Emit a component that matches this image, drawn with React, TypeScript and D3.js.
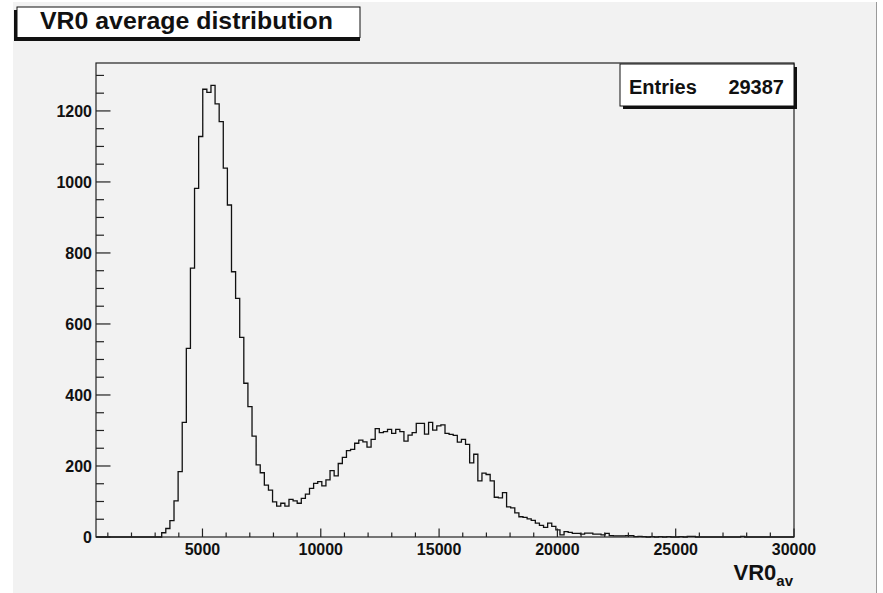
import React from "react";
import * as d3 from "d3";

// ---- data ----
const TITLE = "VR0 average distribution";
const X_TITLE_MAIN = "VR0";
const X_TITLE_SUB = "av";
const ENTRIES_LABEL = "Entries";
const ENTRIES_VALUE = "29387";

const X_MIN = 500;
const X_MAX = 30000;
const Y_MAX = 1335;

const X_MAJOR_TICKS = [5000, 10000, 15000, 20000, 25000, 30000];
const Y_MAJOR_TICKS = [0, 200, 400, 600, 800, 1000, 1200];

// bin contents, 170 equal bins between X_MIN and X_MAX
const COUNTS: number[] = [
  // 0-15
  0, 0, 0, 0, 0, 0, 0, 0, 0, 0, 0, 0, 0, 0, 0, 0,
  // 16-42
  12, 24, 46, 102, 184, 323, 531, 757, 982, 1128, 1261, 1252, 1272, 1220, 1170,
  1039, 935, 747, 672, 562, 433, 367, 284, 203, 181, 146, 132,
  // 43-90
  99, 87, 95, 87, 106, 102, 95, 109, 121, 137, 151, 156, 144, 161, 187, 172,
  207, 224, 243, 247, 264, 273, 268, 253, 275, 305, 294, 297, 303, 292, 303,
  297, 270, 287, 294, 320, 320, 290, 323, 301, 313, 316, 292, 289, 286, 267,
  275, 261,
  // 91-112
  209, 233, 158, 180, 176, 158, 112, 110, 125, 85, 82, 68, 57, 55, 51, 47, 39,
  33, 27, 39, 30, 20,
  // 113-135
  6, 15, 13, 10, 10, 8, 11, 11, 8, 8, 6, 10, 4, 3, 3, 3, 4, 4, 1, 2, 1, 0, 1,
  // 136-169
  0, 1, 0, 1, 0, 0, 1, 0, 2, 2, 0, 0, 0, 0, 0, 0, 0, 0, 0, 0, 0, 2, 0, 0, 0,
  0, 0, 0, 0, 0, 0, 0, 0, 0,
];

const FONT = "'Liberation Sans', Arial, Helvetica, sans-serif";

export default function App() {
  const W = 883;
  const H = 593;
  const left = 96, right = 794, top = 63, bottom = 537;

  const x = d3.scaleLinear().domain([X_MIN, X_MAX]).range([left, right]);
  const y = d3.scaleLinear().domain([0, Y_MAX]).range([bottom, top]);

  const nBins = COUNTS.length;
  const bw = (X_MAX - X_MIN) / nBins;
  const pts: [number, number][] = COUNTS.map((c, i) => [X_MIN + i * bw, c]);
  pts.push([X_MAX, COUNTS[nBins - 1]]);
  const line = d3
    .line<[number, number]>()
    .x((d) => x(d[0]))
    .y((d) => y(d[1]))
    .curve(d3.curveStepAfter);
  const histPath = line(pts) || "";

  const xMinor = d3.range(1000, X_MAX + 1, 1000).filter((v) => v % 5000 !== 0);
  const yMinor = d3.range(50, 1301, 50).filter((v) => v % 200 !== 0);

  return (
    <svg
      width={W}
      height={H}
      style={{ position: "absolute", left: 0, top: 0, display: "block" }}
      fontFamily={FONT}
    >
      <rect x={0} y={0} width={W} height={H} fill="#ffffff" />
      <rect x={13} y={2} width={864} height={H - 2} fill="#f2f2f2" />
      <line x1={876.5} y1={2} x2={876.5} y2={H} stroke="#9a9a9a" strokeWidth={1} />

      {/* histogram */}
      <path d={histPath} fill="none" stroke="#111" strokeWidth={1.3} />

      {/* frame */}
      <rect
        x={left}
        y={top}
        width={right - left}
        height={bottom - top}
        fill="none"
        stroke="#222"
        strokeWidth={1.2}
      />

      {/* x axis ticks */}
      {X_MAJOR_TICKS.map((v) => (
        <line key={"xM" + v} x1={x(v)} x2={x(v)} y1={bottom} y2={bottom - 8.5} stroke="#222" strokeWidth={1.2} />
      ))}
      {xMinor.map((v) => (
        <line key={"xm" + v} x1={x(v)} x2={x(v)} y1={bottom} y2={bottom - 4.5} stroke="#222" strokeWidth={1.2} />
      ))}
      {X_MAJOR_TICKS.map((v) => (
        <text
          key={"xl" + v}
          x={x(v)}
          y={554.5}
          textAnchor="middle"
          fontSize={16}
          fontWeight="bold"
          fill="#111"
        >
          {v}
        </text>
      ))}

      {/* y axis ticks */}
      {Y_MAJOR_TICKS.map((v) => (
        <line key={"yM" + v} x1={left} x2={left + 14.5} y1={y(v)} y2={y(v)} stroke="#222" strokeWidth={1.2} />
      ))}
      {yMinor.map((v) => (
        <line key={"ym" + v} x1={left} x2={left + 8} y1={y(v)} y2={y(v)} stroke="#222" strokeWidth={1.2} />
      ))}
      {Y_MAJOR_TICKS.map((v) => (
        <text
          key={"yl" + v}
          x={92}
          y={y(v)}
          dy="0.36em"
          textAnchor="end"
          fontSize={16}
          fontWeight="bold"
          fill="#111"
        >
          {v}
        </text>
      ))}

      {/* x axis title */}
      <text x={793} y={580} textAnchor="end" fontWeight="bold" fill="#111">
        <tspan fontSize={22}>{X_TITLE_MAIN}</tspan>
        <tspan fontSize={15} dy={6}>{X_TITLE_SUB}</tspan>
      </text>

      {/* title box with shadow (left/bottom) */}
      <rect x={14} y={10} width={346} height={31} fill="#111" />
      <rect x={17} y={7} width={343} height={30.5} fill="#fff" stroke="#111" strokeWidth={1} />
      <text
        x={40}
        y={28.5}
        fontSize={24}
        fontWeight="bold"
        fill="#111"
        textLength={293}
        lengthAdjust="spacingAndGlyphs"
      >
        {TITLE}
      </text>

      {/* stats box with shadow (right/bottom) */}
      <rect x={623} y={67} width={174} height={42} fill="#111" />
      <rect x={620} y={64} width={174} height={42} fill="#fff" stroke="#111" strokeWidth={1} />
      <text x={629} y={93.5} fontSize={20} fontWeight="bold" fill="#111">
        {ENTRIES_LABEL}
      </text>
      <text x={784} y={93.5} fontSize={20} fontWeight="bold" fill="#111" textAnchor="end">
        {ENTRIES_VALUE}
      </text>
    </svg>
  );
}
